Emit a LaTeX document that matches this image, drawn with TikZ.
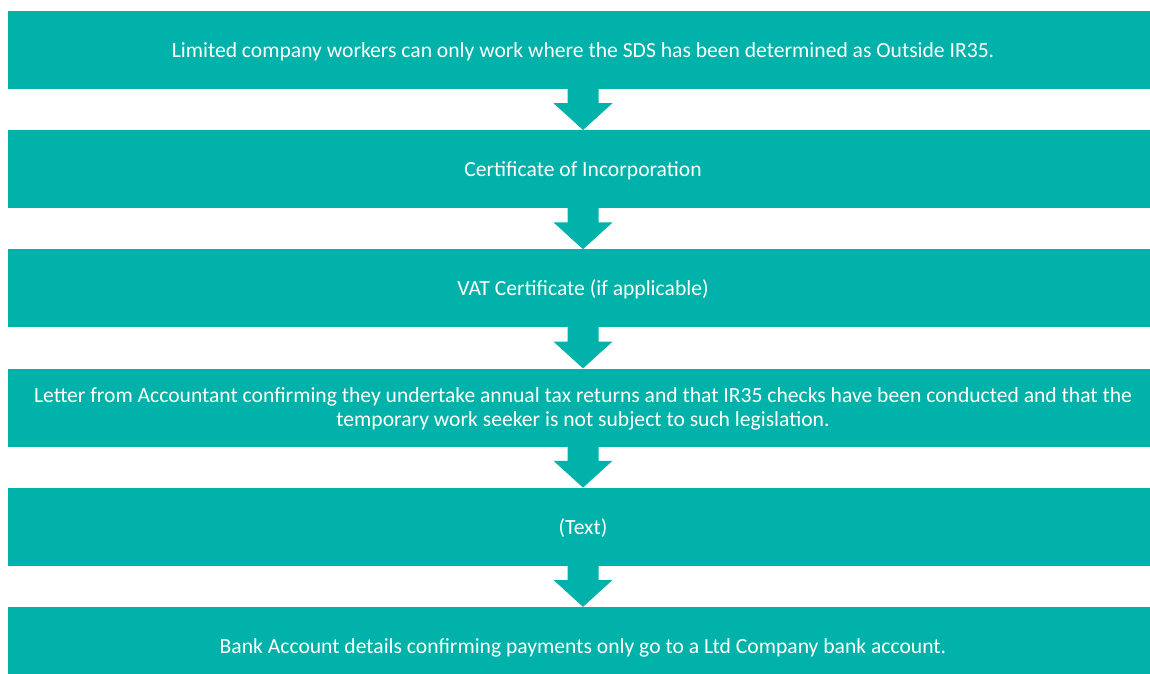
\documentclass[tikz,border=0pt]{standalone}
\usepackage{fontspec}
\setmainfont{Carlito}
\usetikzlibrary{positioning,calc}

\definecolor{boxteal}{HTML}{00B2A9}

\begin{document}
\begin{tikzpicture}[x=1pt,y=1pt,
  stage/.style={rectangle,fill=boxteal,text=white,minimum width=1150pt,
    minimum height=78pt,inner sep=0pt,align=center,text height=20pt,text depth=5pt,
    font=\fontsize{21.6}{24}\selectfont}]
\useasboundingbox (0,0) rectangle (1150,-673);
\clip (0,0) rectangle (1150,-673);
\node[stage] (s1) at (583,-50) {Limited company workers can only work where the SDS has been determined as Outside IR35.};
\node[stage,below=40.8pt of s1] (s2) {Certificate of Incorporation};
\node[stage,below=40.8pt of s2] (s3) {VAT Certificate (if applicable)};
\node[stage,text height=42pt,below=40.8pt of s3] (s4) {Letter from Accountant confirming they undertake annual tax returns and that IR35 checks have been conducted and that the\\temporary work seeker is not subject to such legislation.};
\node[stage,below=40.8pt of s4] (s5) {(Text)};
\node[stage,below=40.8pt of s5] (s6) {Bank Account details confirming payments only go to a Ltd Company bank account.};
% block arrows between the stages
  \foreach \from/\to in {s1/s2,s2/s3,s3/s4,s4/s5,s5/s6}
  {  \fill[boxteal] ($(\from.south)+(-15.5,2)$) -- ++(31,0) -- ++(0,-16) -- ++(14,0)
       -- (\to.north) -- ($(\from.south)+(-29.5,-14)$) -- ++(14,0) -- cycle;}
\end{tikzpicture}
\end{document}
